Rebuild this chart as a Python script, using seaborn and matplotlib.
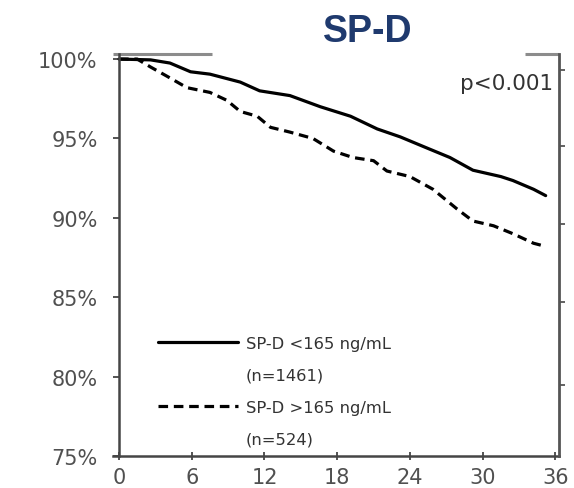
import matplotlib
matplotlib.use("Agg")
import matplotlib.pyplot as plt
from matplotlib.lines import Line2D
import seaborn as sns
import pandas as pd

# Kaplan-Meier style survival estimates (months, % event-free)
low_months = [0, 2.6, 4.2, 5.9, 7.5, 10.0, 11.6, 14.1, 16.6, 19.1, 21.3, 23.2,
              25.4, 27.3, 29.2, 31.5, 32.5, 34.2, 35.2]
low_surv = [100, 99.95, 99.75, 99.2, 99.05, 98.55, 98.0, 97.7, 97.0, 96.4, 95.6, 95.1,
            94.4, 93.8, 93.0, 92.6, 92.35, 91.8, 91.4]

high_months = [0, 1.5, 2.6, 4.0, 5.6, 7.5, 8.9, 10.0, 11.4, 12.5, 14.1, 16.0, 17.7,
               19.3, 21.0, 22.1, 24.0, 25.9, 27.9, 29.2, 30.9, 32.5, 34.2, 35.2]
high_surv = [100, 100, 99.5, 98.9, 98.2, 97.9, 97.4, 96.7, 96.4, 95.7, 95.4, 95.0, 94.2,
             93.8, 93.6, 92.95, 92.6, 91.8, 90.55, 89.8, 89.5, 89.0, 88.4, 88.2]

group_labels = ["SP-D <165 ng/mL", "SP-D >165 ng/mL"]
group_counts = ["(n=1461)", "(n=524)"]

x_ticks = [0, 6, 12, 18, 24, 30, 36]
y_ticks = [75, 80, 85, 90, 95, 100]
y_tick_labels = ["75%", "80%", "85%", "90%", "95%", "100%"]
right_ticks = [99.31, 94.52, 89.61, 84.7, 79.47]

sns.set_theme(style="white")
plt.rcParams["font.family"] = ["DejaVu Sans"]

fig = plt.figure(figsize=(5.74, 4.89), dpi=100)
ax = fig.add_axes([113 / 574, 32 / 489, 446 / 574, 402 / 489])

df_low = pd.DataFrame({"month": low_months, "surv": low_surv})
df_high = pd.DataFrame({"month": high_months, "surv": high_surv})

sns.lineplot(data=df_low, x="month", y="surv", ax=ax, color="black",
             linewidth=2.3, estimator=None, sort=False)
sns.lineplot(data=df_high, x="month", y="surv", ax=ax, color="black",
             linewidth=2.3, estimator=None, sort=False)
ax.lines[1].set_dashes((3.0, 1.8))

ax.set_xlim(-0.5, 36.3)
ax.set_ylim(75, 100.32)
ax.set_xlabel("")
ax.set_ylabel("")

ax.set_xticks(x_ticks)
ax.set_xticklabels([str(t) for t in x_ticks])
ax.set_yticks(y_ticks)
ax.set_yticklabels(y_tick_labels)

spine_col = "#454545"
label_col = "#505050"
ax.spines["left"].set_position(("data", 0))
for s in ("left", "bottom"):
    ax.spines[s].set_color(spine_col)
    ax.spines[s].set_linewidth(1.8)
ax.spines["top"].set_visible(False)
ax.spines["right"].set_visible(False)

ax.tick_params(axis="y", direction="out", length=4.5, width=1.3, color=spine_col,
               labelsize=15, labelcolor=label_col, pad=11, left=True)
ax.tick_params(axis="x", direction="inout", length=6, width=1.3, color=spine_col,
               labelsize=15, labelcolor=label_col, pad=5, bottom=True)

# Right-hand axis with its own outward ticks
ax2 = ax.twinx()
ax2.set_ylim(ax.get_ylim())
ax2.set_yticks(right_ticks)
ax2.set_yticklabels([])
for s in ("left", "top", "bottom"):
    ax2.spines[s].set_visible(False)
ax2.spines["right"].set_color("#555555")
ax2.spines["right"].set_linewidth(2.0)
ax2.tick_params(axis="y", direction="out", length=4.5, width=1.3, color="#555555", right=True)

# Partial grey frame line along the top
for x0, x1 in [(0.0, (212 - 113) / 446), ((525 - 113) / 446, 1.0)]:
    ax.plot([x0, x1], [1.0, 1.0], transform=ax.transAxes, color="#8c8c8c",
            linewidth=2.2, clip_on=False, solid_capstyle="butt")

# Legend: each group followed by its sample size on a second row
blank = Line2D([], [], color="none")
handles = [ax.lines[0], blank, ax.lines[1], blank]
labels = [group_labels[0], group_counts[0], group_labels[1], group_counts[1]]
ax.legend(handles, labels, loc="upper left", bbox_to_anchor=(0.101, 0.298),
          frameon=False, fontsize=11.8, handlelength=4.9, handletextpad=0.45,
          labelspacing=1.02, borderpad=0, borderaxespad=0, labelcolor="#333333")

ax.text(0.987, 0.928, "p<0.001", transform=ax.transAxes, ha="right", va="center",
        fontsize=15.5, color="#333333")

fig.text(368 / 574, 1 - 32 / 489, "SP-D", ha="center", va="center", fontsize=27,
         fontweight="bold", family="Liberation Sans", color="#1f3a6e")

fig.savefig("out.png", dpi=100, facecolor="white")
